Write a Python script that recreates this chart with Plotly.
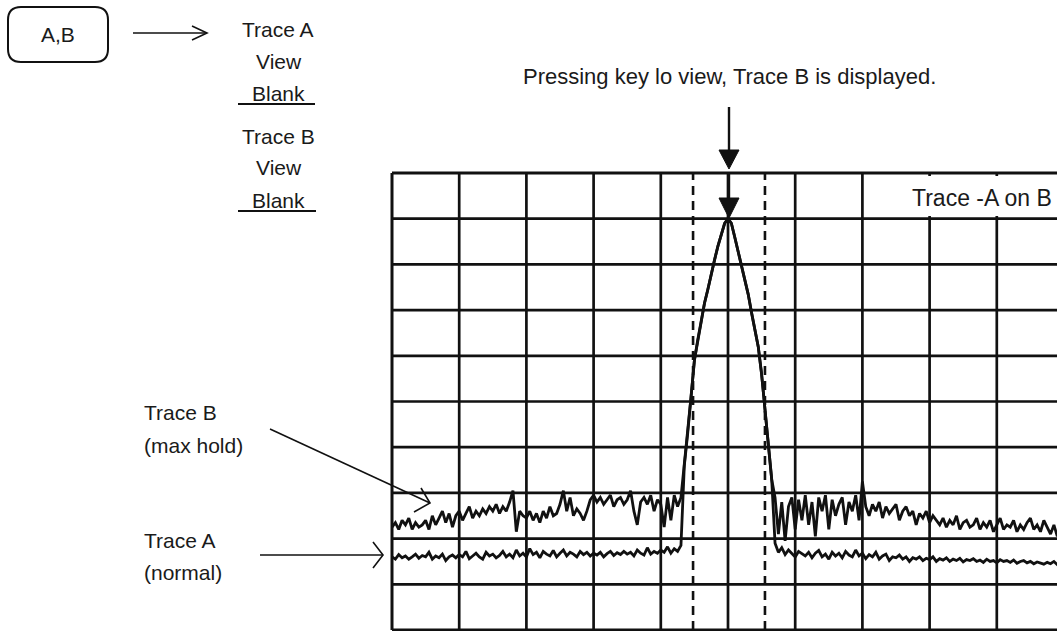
import numpy as np
import plotly.graph_objects as go

W, H = 1057, 631

# ---- data (divisions, 0..10 on both axes) ----
step = 0.05
b_left = [2.25, 2.35, 2.2, 2.4, 2.3, 2.45, 2.2, 2.35, 2.25, 2.3,
          2.4, 2.2, 2.5, 2.3, 2.45, 2.6, 2.35, 2.55, 2.25, 2.5,
          2.6, 2.4, 2.55, 2.7, 2.45, 2.6, 2.5, 2.65, 2.55, 2.7,
          2.6, 2.75, 2.55, 2.7, 2.6, 2.8, 3.05, 2.15, 2.6, 2.5,
          2.45, 2.6, 2.4, 2.55, 2.35, 2.6, 2.45, 2.7, 2.5, 2.55,
          2.75, 3.05, 2.6, 2.9, 2.5, 2.65, 2.55, 2.4, 2.6, 2.85,
          2.95, 2.8, 2.9, 2.75, 2.85, 2.95, 2.7, 2.85, 2.9, 2.75,
          2.85, 3.05, 2.6, 2.3, 2.8, 2.9, 2.75, 2.95, 2.6, 2.85,
          2.75, 2.25, 2.9, 2.4, 2.95, 2.7, 2.9]
peak = [3.6, 4.3, 5.1, 5.9, 6.35, 6.75, 7.15, 7.45, 7.8, 8.1, 8.4, 8.65, 8.9, 9.0,
        8.9, 8.6, 8.3, 8.0, 7.7, 7.35, 6.95, 6.6, 6.2, 5.6, 4.8, 4.0, 3.3]
b_right = [2.9, 2.1, 2.8, 1.95, 2.7, 2.9, 2.2, 2.85, 2.4, 2.95,
           2.3, 2.8, 2.05, 2.9, 2.6, 2.95, 2.2, 2.85, 2.5, 2.75,
           2.9, 2.3, 2.8, 2.6, 2.95, 2.4, 3.25, 2.7, 2.5, 2.75,
           2.6, 2.8, 2.45, 2.7, 2.55, 2.65, 2.75, 2.4, 2.6, 2.7,
           2.5, 2.6, 2.3, 2.55, 2.45, 2.6, 2.35, 2.5, 2.4, 2.3,
           2.45, 2.25, 2.4, 2.3, 2.5, 2.2, 2.35, 2.4, 2.25, 2.3,
           2.45, 2.2, 2.35, 2.25, 2.4, 2.15, 2.3, 2.45, 2.2, 2.3,
           2.25, 2.4, 2.15, 2.3, 2.2, 2.35, 2.45, 2.2, 2.3, 2.15,
           2.4, 2.25, 2.1, 2.3, 2.05, 2.2, 2.1]
a_left = [1.6, 1.55, 1.65, 1.58, 1.62, 1.55, 1.6, 1.66, 1.57, 1.63,
          1.6, 1.7, 1.55, 1.62, 1.58, 1.66, 1.52, 1.6, 1.64, 1.58,
          1.65, 1.6, 1.72, 1.56, 1.62, 1.68, 1.6, 1.55, 1.7, 1.62,
          1.66, 1.58, 1.63, 1.72, 1.6, 1.66, 1.58, 1.75, 1.62, 1.68,
          1.6, 1.78, 1.65, 1.7, 1.58, 1.72, 1.66, 1.62, 1.74, 1.6,
          1.68, 1.75, 1.62, 1.7, 1.66, 1.6, 1.72, 1.65, 1.7, 1.62,
          1.68, 1.64, 1.7, 1.6, 1.67, 1.72, 1.63, 1.69, 1.65, 1.72,
          1.66, 1.7, 1.62, 1.75, 1.68, 1.64, 1.8, 1.66, 1.72, 1.68,
          1.75, 1.7, 1.82, 1.68, 1.78, 1.72, 1.85]
a_right = [1.9, 1.7, 1.8, 1.65, 1.75, 1.68, 1.6, 1.72, 1.66, 1.62,
           1.7, 1.58, 1.68, 1.74, 1.6, 1.66, 1.55, 1.7, 1.62, 1.68,
           1.58, 1.72, 1.64, 1.6, 1.75, 1.62, 1.68, 1.56, 1.65, 1.6,
           1.7, 1.55, 1.62, 1.66, 1.52, 1.6, 1.58, 1.64, 1.55, 1.6,
           1.5, 1.58, 1.55, 1.6, 1.52, 1.57, 1.54, 1.6, 1.5, 1.56,
           1.53, 1.58, 1.5, 1.55, 1.52, 1.57, 1.49, 1.54, 1.52, 1.56,
           1.5, 1.53, 1.48, 1.55, 1.5, 1.52, 1.47, 1.54, 1.5, 1.52,
           1.48, 1.53, 1.46, 1.5, 1.52, 1.47, 1.5, 1.45, 1.49, 1.47,
           1.44, 1.48, 1.45, 1.5, 1.43, 1.46, 1.42]

trace_b = b_left + peak + b_right
trace_a = a_left + peak + a_right
freq = [round(i * step, 2) for i in range(len(trace_b))]

n_div = 10
dashed_x = [4.48, 5.55]

# ---- geometry (pixels) ----
X0, DX = 392, 67.2
Y0, DY = 630, 45.7
xr = [(0 - X0) / DX, (W - X0) / DX]
yr = [(Y0 - H) / DY, Y0 / DY]


def px(x, y):
    return x / W, 1 - y / H


fig = go.Figure()
fig.add_trace(go.Scatter(x=freq, y=trace_a, mode="lines",
                         line=dict(color="#111", width=2.8), hoverinfo="skip"))
fig.add_trace(go.Scatter(x=freq, y=trace_b, mode="lines",
                         line=dict(color="#111", width=2.8), hoverinfo="skip"))

shapes = []
for i in range(n_div + 1):
    w = 3 if i in (0, n_div) else 2.7
    shapes.append(dict(type="line", xref="x", yref="y", x0=i, x1=i, y0=0, y1=n_div,
                       line=dict(color="#111", width=w), layer="below"))
    shapes.append(dict(type="line", xref="x", yref="y", x0=0, x1=n_div, y0=i, y1=i,
                       line=dict(color="#111", width=w), layer="below"))
for dx in dashed_x:
    shapes.append(dict(type="line", xref="x", yref="y", x0=dx, x1=dx, y0=0, y1=n_div,
                       line=dict(color="#111", width=2.6, dash="9px,6px"), layer="below"))


def P(x, y):
    u, v = px(x, y)
    return f"{u:.5f},{v:.5f}"


def line_shape(points, width=1.8, fill=None):
    s = " ".join(("M" if k == 0 else "L") + P(x, y) for k, (x, y) in enumerate(points))
    if fill:
        s += " Z"
    d = dict(type="path", xref="paper", yref="paper", path=s,
             line=dict(color="#111", width=width))
    if fill:
        d["fillcolor"] = fill
    return d


# white label area in the top-right grid cell (grid lines are interrupted there)
lx0, ly0 = px(905, 176)
lx1, ly1 = px(W, 216)
shapes.append(dict(type="rect", xref="paper", yref="paper", x0=lx0, x1=lx1, y0=ly1, y1=ly0,
                   fillcolor="white", line=dict(width=0), layer="above"))

# rounded key box
x1, y1, x2, y2, r = 8, 7, 108, 62, 13
box = (f"M{P(x1+r, y1)} L{P(x2-r, y1)} Q{P(x2, y1)} {P(x2, y1+r)} L{P(x2, y2-r)} "
       f"Q{P(x2, y2)} {P(x2-r, y2)} L{P(x1+r, y2)} Q{P(x1, y2)} {P(x1, y2-r)} "
       f"L{P(x1, y1+r)} Q{P(x1, y1)} {P(x1+r, y1)} Z")
shapes.append(dict(type="path", xref="paper", yref="paper", path=box,
                   line=dict(color="#111", width=2)))

# arrow from key
shapes.append(line_shape([(133, 33), (207, 33)], 1.6))
shapes.append(line_shape([(192, 26), (207, 33), (192, 40)], 1.6))
# underlines
shapes.append(line_shape([(238, 104), (315, 104)], 2.2))
shapes.append(line_shape([(238, 211), (316, 211)], 2.2))
# top arrow
shapes.append(line_shape([(729, 107), (729, 160)], 2.4))
shapes.append(line_shape([(719, 150), (739, 150), (729, 169)], 1, fill="#111"))
shapes.append(line_shape([(729, 173), (729, 205)], 2.4))
shapes.append(line_shape([(719, 198), (739, 198), (729, 218)], 1, fill="#111"))
# Trace B pointer
shapes.append(line_shape([(270, 429), (430, 503)], 1.6))
shapes.append(line_shape([(421, 488), (430, 503), (414, 512)], 1.6))
# Trace A pointer
shapes.append(line_shape([(260, 555), (383, 555)], 1.6))
shapes.append(line_shape([(373, 542), (383, 555), (373, 568)], 1.6))

FONT = "Arial, Liberation Sans, Helvetica, sans-serif"
ann = []


def text(t, x, y, size=21, anchor="center"):
    u, v = px(x, y)
    ann.append(dict(text=t, x=u, y=v, xref="paper", yref="paper",
                    xanchor=anchor, yanchor="middle", showarrow=False,
                    font=dict(family=FONT, size=size, color="#1a1a1a")))


text("A,B", 58, 34, 21)
text("Trace A", 278, 29)
text("View", 279, 61)
text("Blank", 278, 93)
text("Trace B", 278, 136)
text("View", 279, 167)
text("Blank", 278, 200)
text("Pressing key lo view, Trace B is displayed.", 521, 76, 22, anchor="left")
text("Trace -A on B", 910, 198, 23, anchor="left")
text("Trace B", 142, 412, 21, anchor="left")
text("(max hold)", 142, 445, 21, anchor="left")
text("Trace A", 142, 540, 21, anchor="left")
text("(normal)", 142, 572, 21, anchor="left")

fig.update_layout(
    width=W, height=H, margin=dict(l=0, r=0, t=0, b=0),
    paper_bgcolor="white", plot_bgcolor="white", showlegend=False,
    xaxis=dict(range=xr, visible=False, fixedrange=True),
    yaxis=dict(range=yr, visible=False, fixedrange=True),
    shapes=shapes, annotations=ann,
)
fig.write_html("out.html", config={"displayModeBar": False},
               post_script="document.body.style.margin='0';document.body.style.overflow='hidden';")
